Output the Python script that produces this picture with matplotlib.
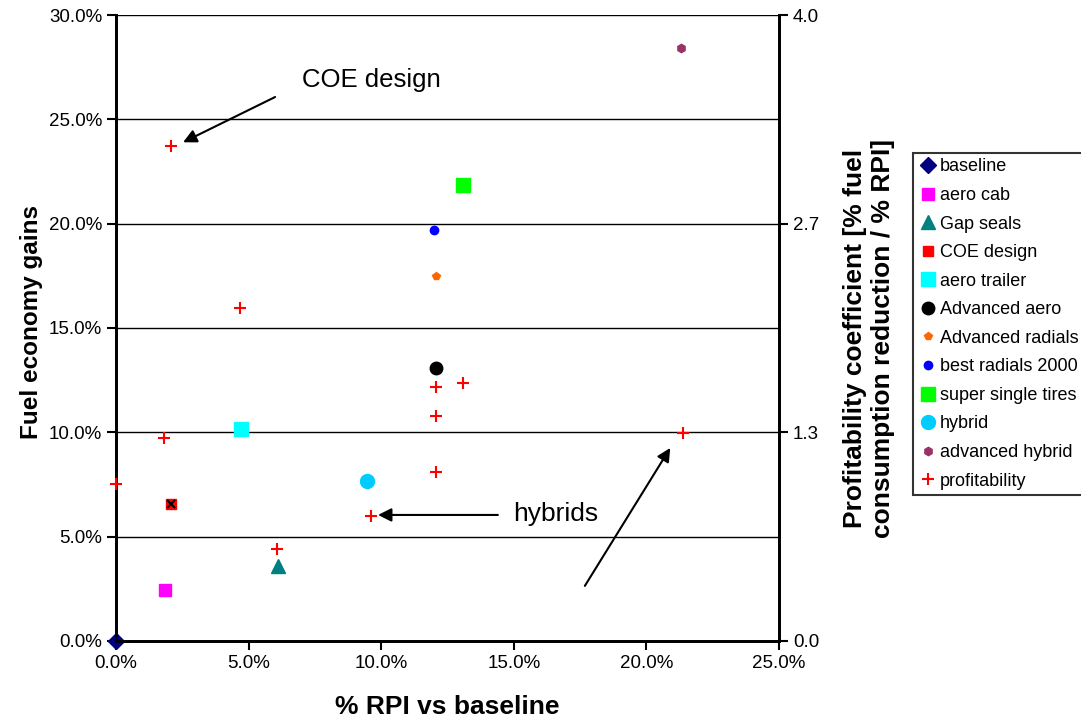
import matplotlib.pyplot as plt
from matplotlib.ticker import PercentFormatter, FuncFormatter

plt.rcParams['font.family'] = ['Liberation Sans', 'DejaVu Sans']

# technology points: % RPI vs baseline, fuel economy gain (%)
names = ['baseline', 'aero cab', 'Gap seals', 'COE design', 'aero trailer',
         'Advanced aero', 'Advanced radials', 'best radials 2000',
         'super single tires', 'hybrid', 'advanced hybrid']
rpi = [0.0, 1.85, 6.1, 2.07, 4.7, 12.05, 12.05, 12.0, 13.1, 9.45, 21.3]
gain = [0.0, 2.45, 3.6, 6.55, 10.15, 13.1, 17.5, 19.7, 21.85, 7.65, 28.4]
colors = ['#000080', '#FF00FF', '#008080', '#FF0000', '#00FFFF', '#000000',
          '#FF6600', '#0000FF', '#00FF00', '#00CCFF', '#993366']
markers = ['D', 's', '^', 's', 's', 'o', 'p', 'o', 's', 'o', 'h']
sizes = [8, 9, 10, 7, 10, 9, 6, 6, 10, 10, 6]

# profitability coefficient (right axis)
prof_rpi = [0.0, 1.8, 6.07, 4.68, 2.07, 9.6, 12.05, 13.1, 12.05, 12.05, 21.4]
prof_val = [1.0, 1.30, 0.59, 2.13, 3.16, 0.80, 1.62, 1.65, 1.44, 1.08, 1.33]

fig = plt.figure(figsize=(10.81, 7.25), dpi=100)
ax = fig.add_axes([0.1073, 0.1159, 0.6133, 0.8634])
ax2 = ax.twinx()

handles = []
for n, x, y, c, m, s in zip(names, rpi, gain, colors, markers, sizes):
    h, = ax.plot([x], [y], linestyle='none', marker=m, color=c, markersize=s,
                 markeredgecolor=c, label=n, clip_on=False, zorder=5)
    if n == 'COE design':
        ax.plot([x], [y], linestyle='none', marker='x', color='black',
                markersize=6, markeredgewidth=1.5, zorder=6)
    handles.append(h)

hp, = ax2.plot(prof_rpi, prof_val, linestyle='none', marker='+', color='red',
               markersize=8, markeredgewidth=1.5, label='profitability',
               clip_on=False, zorder=5)
handles.append(hp)

ax.set_xlim(0, 25)
ax.set_ylim(0, 30)
ax2.set_ylim(0, 4.0)
ax.set_xticks([0, 5, 10, 15, 20, 25])
ax.set_yticks([0, 5, 10, 15, 20, 25, 30])
ax2.set_yticks([0, 4 / 3, 8 / 3, 4.0])
ax.xaxis.set_major_formatter(PercentFormatter(decimals=1))
ax.yaxis.set_major_formatter(PercentFormatter(decimals=1))
ax2.yaxis.set_major_formatter(FuncFormatter(lambda v, p: f'{v:.1f}'))

ax.yaxis.grid(True, color='black', linewidth=1)
ax.set_axisbelow(True)
for a in (ax, ax2):
    a.tick_params(labelsize=13.5, length=6.5, width=1.5, direction='out')
    for sp in a.spines.values():
        sp.set_linewidth(2)
ax.spines['top'].set_visible(False)
ax2.spines['top'].set_visible(False)

ax.set_xlabel('% RPI vs baseline', fontsize=19, fontweight='bold', labelpad=17)
ax.set_ylabel('Fuel economy gains', fontsize=17.5, fontweight='bold', labelpad=4)
ax2.set_ylabel('Profitability coefficient [% fuel\nconsumption reduction / % RPI]',
               fontsize=19, fontweight='bold', labelpad=17)
ax.yaxis.label.set_y(0.51)
ax2.yaxis.label.set_y(0.484)

arrow = dict(arrowstyle='-|>', color='black', lw=1.5, mutation_scale=20,
             shrinkA=0, shrinkB=0)
ax.text(7.0, 26.9, 'COE design', fontsize=18.5, ha='left', va='center')
ax.annotate('', xy=(2.53, 23.9), xytext=(6.0, 26.07), arrowprops=arrow)
ax.text(14.97, 6.1, 'hybrids', fontsize=19, ha='left', va='center')
ax.annotate('', xy=(9.88, 6.04), xytext=(14.4, 6.04), arrowprops=arrow)
ax.annotate('', xy=(20.9, 9.25), xytext=(17.68, 2.64), arrowprops=arrow)

leg = fig.legend(handles=handles, loc='upper left',
                 bbox_to_anchor=(913 / 1081, 1 - 153 / 725), fontsize=13,
                 frameon=True, fancybox=False, edgecolor='black',
                 handletextpad=0.1, handlelength=1.1, labelspacing=0.64,
                 borderpad=0.3, borderaxespad=0)
leg.get_frame().set_linewidth(1.5)

fig.savefig('out.png', dpi=100)
